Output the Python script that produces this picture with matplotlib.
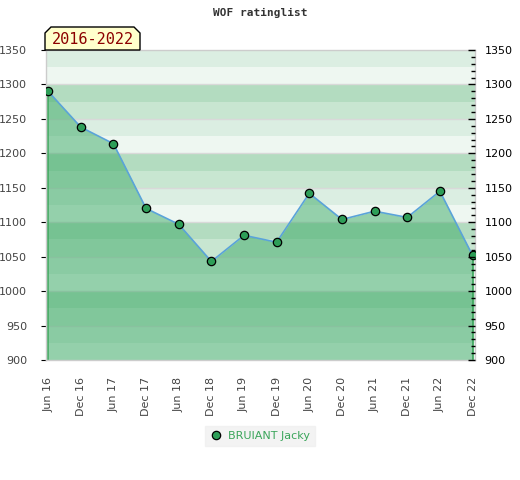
import matplotlib
matplotlib.use("Agg")
import matplotlib.pyplot as plt
from matplotlib.patches import Polygon
from matplotlib.ticker import MultipleLocator
import numpy as np

dates = ["Jun 16", "Dec 16", "Jun 17", "Dec 17", "Jun 18", "Dec 18", "Jun 19",
         "Dec 19", "Jun 20", "Dec 20", "Jun 21", "Dec 21", "Jun 22", "Dec 22"]
ratings = [1290, 1238, 1214, 1120, 1097, 1043, 1081, 1071, 1142, 1104, 1116, 1107, 1145, 1052]
player = "BRUIANT Jacky"
period = "2016-2022"
title = "WOF ratinglist"

ymin, ymax = 900, 1350
band_colors = ["#eef7f1", "#dbeee2", "#c8e6d1", "#b3dcc0"]

fig = plt.figure(figsize=(5.2, 4.8), dpi=100)
ax = fig.add_axes([0.0879, 0.25, 0.8256, 0.6458])

x = np.arange(len(dates))
# stripes
for lo in range(ymin, ymax, 25):
    ax.axhspan(lo, lo + 25, color=band_colors[(lo % 100) // 25], lw=0, zorder=0)
for g in range(ymin + 50, ymax, 50):
    ax.axhline(g, color="#d9d9d9", lw=1, zorder=0.5)

ax.fill_between(x, ratings, ymin, color="#3baa66", alpha=0.5, lw=0, zorder=1)
ax.vlines([x[0], x[-1]], ymin, [ratings[0], ratings[-1]], color="#3aa55a", lw=1.2, zorder=2)
ax.plot(x, ratings, color="#5aa3d9", lw=1.2, zorder=3)
ax.plot(x, ratings, ls="none", marker="o", ms=6, mfc="#2e9e58", mec="black", mew=0.9, zorder=4,
        label=player)

ax.set_xlim(-0.075, len(dates) - 1 + 0.077)
ax.set_ylim(ymin, ymax)
ax.set_xticks(x)
ax.set_xticklabels(dates, rotation=90, fontsize=8, color="#444444")
ax.tick_params(axis="x", length=0, pad=12)
ax.yaxis.set_major_locator(MultipleLocator(50))
ax.tick_params(axis="y", left=False, labelleft=True, labelsize=8, labelcolor="#444444", pad=10)
for s in ax.spines.values():
    s.set_color("#cccccc")
    s.set_linewidth(1)

ax2 = ax.twinx()
ax2.set_ylim(ymin, ymax)
ax2.yaxis.set_major_locator(MultipleLocator(50))
ax2.yaxis.set_minor_locator(MultipleLocator(10))
ax2.tick_params(axis="y", which="major", direction="in", length=5, width=1, color="black",
                labelsize=8, labelcolor="black", pad=7)
ax2.tick_params(axis="y", which="minor", direction="in", length=3, width=1, color="black")
for s in ax2.spines.values():
    s.set_visible(False)

fig.text(0.5, 1 - 13 / 480, title, ha="center", va="center", fontsize=8,
         family="DejaVu Sans Mono", weight="bold", color="#333333")

# period label box with cut corners
bx0, bx1, by0, by1, c = 45 / 520, 140 / 520, 1 - 50 / 480, 1 - 27 / 480, 6
cx, cy = c / 520, c / 480
poly = Polygon([(bx0, by0), (bx0, by1 - cy), (bx0 + cx, by1), (bx1 - cx, by1),
                (bx1, by1 - cy), (bx1, by0)], closed=True, transform=fig.transFigure,
               facecolor="#ffffcc", edgecolor="black", lw=1, zorder=5)
fig.patches.append(poly)
fig.text((bx0 + bx1) / 2, (by0 + by1) / 2 - 0.002, period, ha="center", va="center",
         fontsize=11, family="DejaVu Sans Mono", color="#8b0000", zorder=6)

leg = fig.legend(loc="center", bbox_to_anchor=(260 / 520, 1 - 436 / 480), frameon=True,
                 fontsize=8, handletextpad=0.6, borderpad=0.45, handlelength=1.0,
                 fancybox=False)
leg.get_frame().set_facecolor("#f0f0f0")
leg.get_frame().set_edgecolor("#f0f0f0")
for t in leg.get_texts():
    t.set_color("#3aa55a")

fig.savefig("out.png", dpi=100)
